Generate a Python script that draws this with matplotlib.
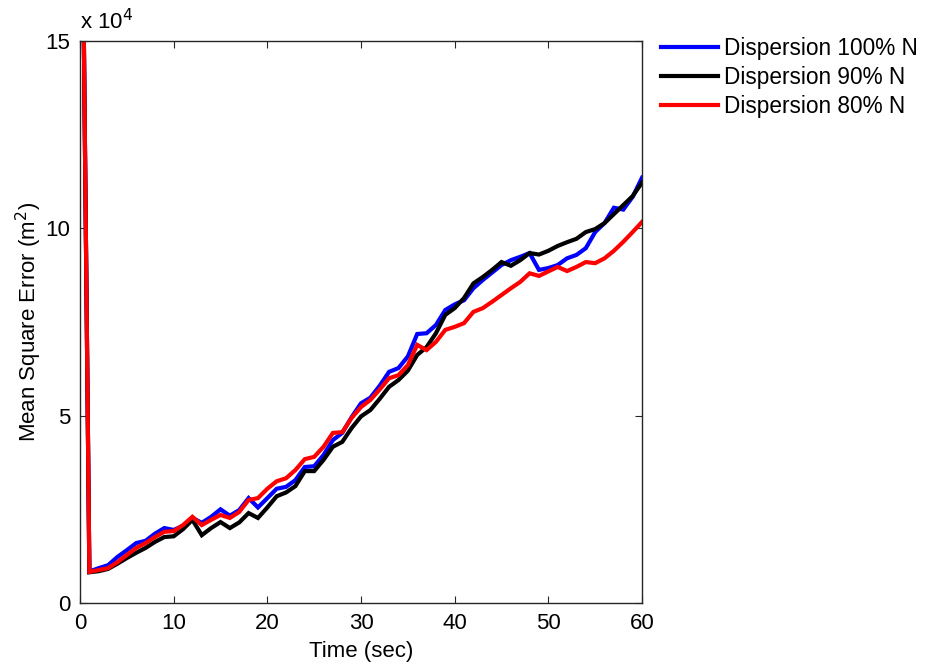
import matplotlib
matplotlib.use("Agg")
import matplotlib.pyplot as plt
from matplotlib.ticker import FuncFormatter

plt.rcParams['font.family'] = ['Liberation Sans', 'DejaVu Sans']

# Time axis (seconds)
time_sec = list(range(0, 61))

# Mean square error, in units of 1e4 m^2
mse_100 = [25, 0.84, 0.93, 1.01, 1.23, 1.41, 1.60, 1.66, 1.85, 2.00,
           1.95, 2.06, 2.27, 2.14, 2.30, 2.50, 2.33, 2.48, 2.80, 2.55,
           2.80, 3.05, 3.10, 3.28, 3.63, 3.65, 3.95, 4.35, 4.54, 4.96,
           5.33, 5.48, 5.80, 6.17, 6.27, 6.58, 7.18, 7.20, 7.42, 7.82,
           7.97, 8.08, 8.40, 8.62, 8.82, 9.02, 9.15, 9.24, 9.34, 8.89,
           8.94, 9.02, 9.20, 9.29, 9.47, 9.90, 10.14, 10.55, 10.50, 10.84,
           11.35]
mse_90 = [25, 0.82, 0.85, 0.91, 1.05, 1.20, 1.34, 1.47, 1.63, 1.76,
          1.78, 1.97, 2.22, 1.81, 2.00, 2.16, 2.00, 2.15, 2.40, 2.27,
          2.55, 2.85, 2.95, 3.12, 3.52, 3.52, 3.82, 4.17, 4.30, 4.67,
          4.98, 5.15, 5.45, 5.77, 5.95, 6.20, 6.62, 6.83, 7.20, 7.69,
          7.87, 8.14, 8.53, 8.70, 8.89, 9.10, 9.00, 9.15, 9.34, 9.30,
          9.40, 9.53, 9.63, 9.72, 9.90, 9.98, 10.14, 10.38, 10.62, 10.86,
          11.22]
mse_80 = [25, 0.83, 0.88, 0.93, 1.09, 1.28, 1.47, 1.60, 1.76, 1.90,
          1.92, 2.08, 2.30, 2.08, 2.22, 2.35, 2.27, 2.43, 2.75, 2.80,
          3.05, 3.25, 3.33, 3.55, 3.84, 3.90, 4.17, 4.54, 4.56, 4.94,
          5.23, 5.42, 5.70, 6.00, 6.08, 6.35, 6.89, 6.75, 6.97, 7.29,
          7.37, 7.47, 7.77, 7.87, 8.04, 8.22, 8.40, 8.57, 8.80, 8.73,
          8.85, 8.97, 8.86, 8.97, 9.10, 9.07, 9.20, 9.40, 9.64, 9.90,
          10.17]

labels = ['Dispersion 100% N', 'Dispersion 90% N', 'Dispersion 80% N']
colors = ['#0000ff', '#000000', '#ff0000']
scale = 1e4

fig = plt.figure(figsize=(9.27, 6.66), dpi=100)
ax = fig.add_axes([80 / 927, 63 / 666, 562 / 927, 562 / 666])

for series, lab, col in zip([mse_100, mse_90, mse_80], labels, colors):
    ax.plot(time_sec, [v * scale for v in series], color=col, lw=3, label=lab,
            solid_joinstyle='miter')

ax.set_xlim(0, 60)
ax.set_ylim(0, 15e4)
ax.set_xticks([0, 10, 20, 30, 40, 50, 60])
ax.set_yticks([0, 5e4, 10e4, 15e4])
ax.yaxis.set_major_formatter(FuncFormatter(lambda v, p: f"{v / scale:g}"))

ax.tick_params(direction='in', top=True, right=True, length=5, width=0.8,
               labelsize=16, pad=7, colors='#262626', labelcolor='black')
for sp in ax.spines.values():
    sp.set_linewidth(1.0)
    sp.set_color('#262626')

ax.set_xlabel('Time (sec)', fontsize=16, labelpad=5)
ax.set_ylabel('Mean Square Error (m$^2$)', fontsize=16, labelpad=1)
ax.text(0.0, 1.012, 'x 10$^4$', transform=ax.transAxes, fontsize=16,
        ha='left', va='bottom')

fig.legend(loc='upper left', bbox_to_anchor=(661 / 927, 1 - 37 / 666),
           frameon=False, fontsize=16.3, handlelength=2.5, handletextpad=0.3,
           labelspacing=0.26, borderpad=0, borderaxespad=0)

fig.savefig('out.png', dpi=100)
